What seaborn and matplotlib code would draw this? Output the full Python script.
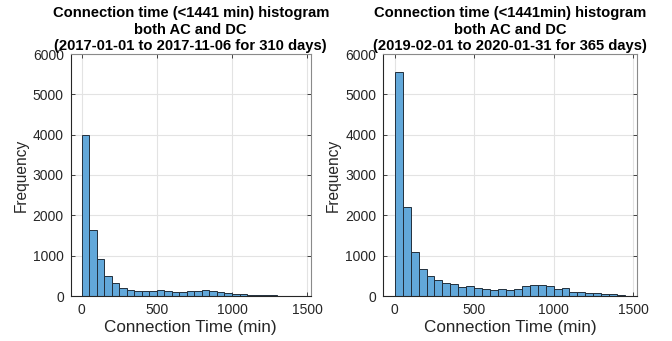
import numpy as np
import pandas as pd
import matplotlib
matplotlib.use("Agg")
import matplotlib.pyplot as plt
import seaborn as sns

# ---- data ----
bin_edges = list(range(0, 1451, 50))  # 0..1450, width 50 min
counts_2017 = [3990, 1630, 925, 490, 315, 195, 150, 125, 125, 130,
               140, 130, 110, 110, 115, 130, 150, 135, 105, 85,
               60, 45, 30, 25, 20, 15, 12, 8, 5]
counts_2019 = [5560, 2200, 1090, 667, 486, 395, 321, 288, 222, 239,
               189, 173, 148, 173, 156, 173, 239, 264, 272, 255,
               181, 198, 107, 99, 74, 74, 49, 49, 33]
titles = [
    "Connection time (<1441 min) histogram\nboth AC and DC\n(2017-01-01 to 2017-11-06 for 310 days)",
    "Connection time (<1441min) histogram\nboth AC and DC\n(2019-02-01 to 2020-01-31 for 365 days)",
]
xticks = [0, 500, 1000, 1500]
yticks = [0, 1000, 2000, 3000, 4000, 5000, 6000]

sns.set_theme(style="white")
plt.rcParams['font.family'] = ['Liberation Sans', 'DejaVu Sans']

fig = plt.figure(figsize=(6.72, 3.41), dpi=100)
positions = [
    [70.7 / 672, 45 / 341, 240 / 672, 242 / 341],
    [383.3 / 672, 45 / 341, 253.4 / 672, 242 / 341],
]

face = "#62a8da"
edge = "#222f3c"
axcol = "#262626"

for pos, counts, title in zip(positions, [counts_2017, counts_2019], titles):
    ax = fig.add_axes(pos)
    centers = [(a + b) / 2 for a, b in zip(bin_edges[:-1], bin_edges[1:])]
    df = pd.DataFrame({"t": centers, "n": counts})
    sns.histplot(data=df, x="t", weights="n", bins=bin_edges, ax=ax,
                 color=face, alpha=1.0, edgecolor=edge, linewidth=0.7)
    ax.set_xlim(-72, 1523)
    ax.set_ylim(0, 6000)
    ax.set_xticks(xticks)
    ax.set_yticks(yticks)
    ax.grid(True, color="#e3e3e3", linewidth=0.8)
    ax.set_axisbelow(True)
    for s in ax.spines.values():
        s.set_visible(True)
        s.set_color("#8a8a8a")
        s.set_linewidth(0.8)
    ax.spines['left'].set_color(axcol)
    ax.spines['bottom'].set_color(axcol)
    ax.tick_params(direction="in", length=3, width=0.6, colors=axcol,
                   labelsize=10, pad=5, top=True, right=True,
                   bottom=True, left=True)
    ax.tick_params(axis='both', labelcolor="#262626")
    ax.set_xlabel("Connection Time (min)", fontsize=12.3, color="#262626", labelpad=2)
    ax.set_ylabel("Frequency", fontsize=11.2, color="#262626", labelpad=3)
    ax.set_title(title, fontsize=10.6, fontweight="bold", color="black",
                 pad=3, linespacing=1.2)

fig.savefig("out.png", dpi=100)
